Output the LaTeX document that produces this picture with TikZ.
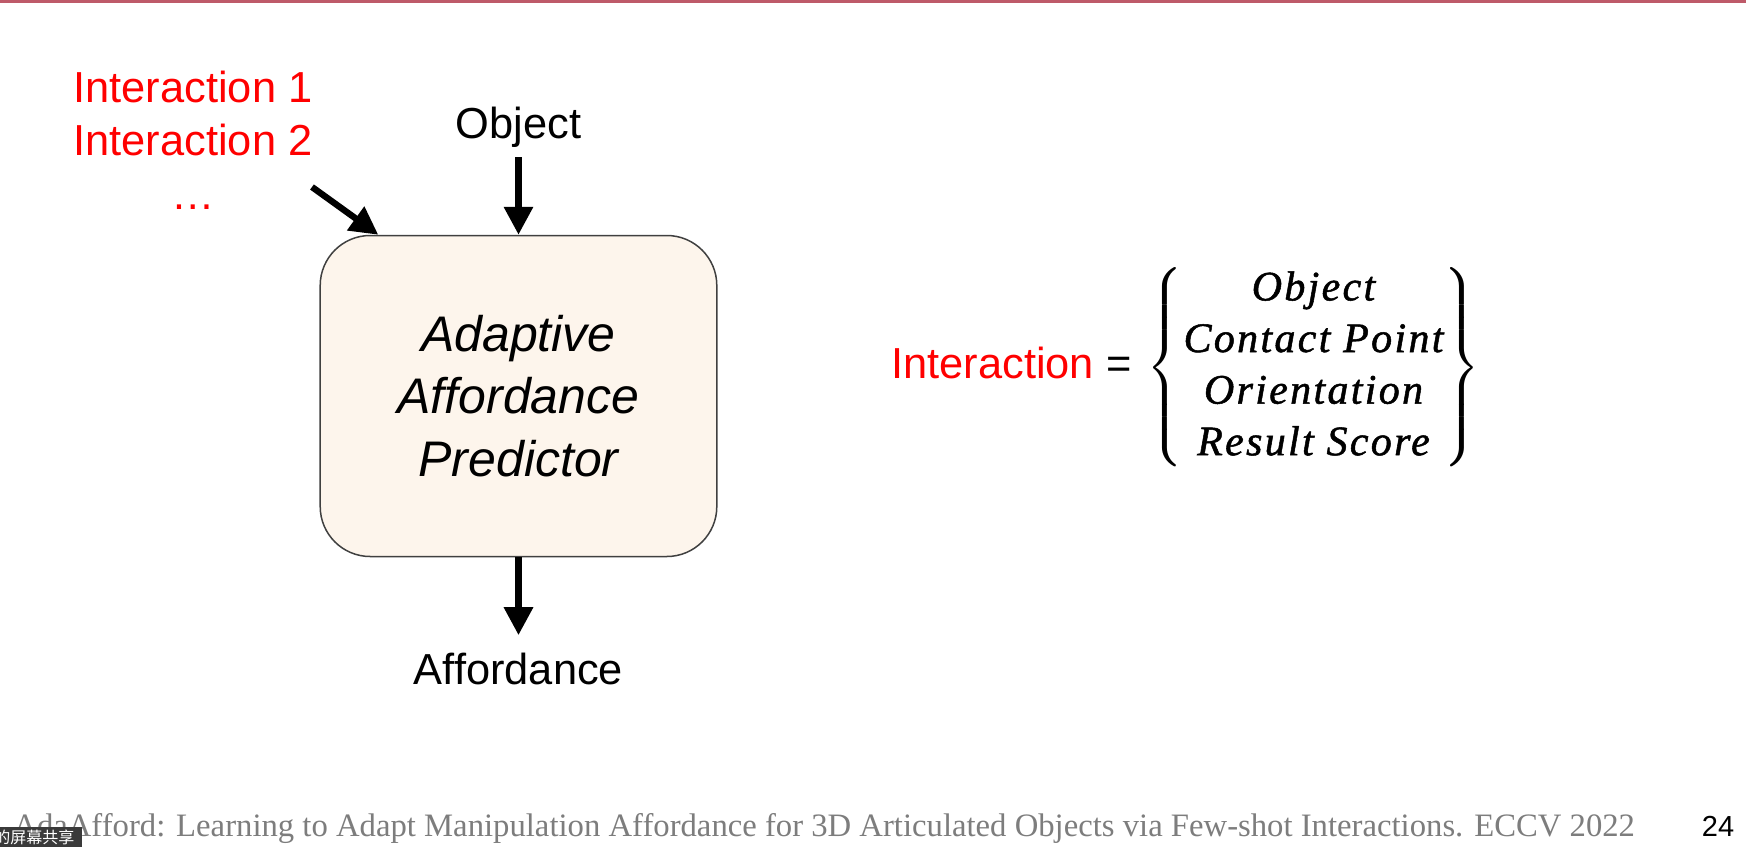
\documentclass[tikz,border=0pt]{standalone}
\usepackage{amsmath}
\usepackage{fontspec}
\setmainfont{Liberation Sans}
\newfontfamily\setfont{Liberation Serif}[LetterSpace=5.5,FakeBold=1.2]
\newfontfamily\citefont{Liberation Serif}
\newfontfamily\cjkfont{Noto Sans CJK SC}
\usetikzlibrary{arrows.meta}
\definecolor{boxfill}{RGB}{253,245,236}
\definecolor{boxline}{RGB}{64,64,64}
\definecolor{topline}{RGB}{190,90,105}
\definecolor{citegray}{RGB}{125,125,125}
\definecolor{sharegray}{RGB}{58,58,58}

\begin{document}
\begin{tikzpicture}[x=0.5pt,y=-0.5pt,
  lbl/.style={inner sep=0pt,font=\fontsize{21.7}{26.7}\selectfont},
  arr/.style={line width=3.2pt,-{Triangle[length=14pt,width=14pt]}}]
\useasboundingbox (0,0) rectangle (1746,847);
\fill[white] (0,0) rectangle (1746,847);
\fill[topline] (0,0) rectangle (1746,2.5);

% predictor block
\node[draw=boxline,fill=boxfill,line width=0.75pt,rounded corners=25pt,
  minimum width=198.3pt,minimum height=160.5pt,align=center,
  font=\fontsize{25}{31.25}\selectfont\itshape] (box) at (518.5,396)
  {Adaptive\\Affordance\\Predictor};

\node[lbl,anchor=base] (obj) at (518.5,138) {Object};
\node[lbl,anchor=base] (aff) at (518.5,684) {Affordance};
\node[lbl,anchor=north,text=red,align=center] (inter) at (193,70.5) {Interaction 1\\Interaction 2\\…};
\coordinate (istart) at (312,187);

\draw[arr,shorten <=5pt] (obj) -- (box);
\draw[arr,shorten >=8.5pt] (box) -- (aff);
\draw[arr] (istart) -- (box.131);

% definition on the right
\node[lbl,anchor=base west] (intereq) at (891,378) {\textcolor{red}{Interaction} =};
\node[inner sep=0pt,font=\fontsize{21}{25.8}\selectfont\setfont\itshape] (set) at (1313.5,367.5)
  {$\left\{\begin{tabular}{@{}c@{}}Object\\Contact Point\\Orientation\\Result Score\end{tabular}\right\}$};

% footer
\node[anchor=base west,inner sep=0pt,text=citegray,font=\citefont\fontsize{16.35}{20}\selectfont] (cite) at (13,836)
  {AdaAfford: Learning to Adapt Manipulation Affordance for 3D Articulated Objects via Few-shot Interactions. ECCV 2022};
\node[anchor=base,inner sep=0pt,font=\fontsize{14.5}{17}\selectfont] (page) at (1718,836) {24};
\fill[sharegray] (0,827) rectangle (82,847);
\node[anchor=base west,inner sep=0pt,text=white,font=\cjkfont\fontsize{8}{9}\selectfont] (share) at (-6,843) {的屏幕共享};
\end{tikzpicture}
\end{document}
